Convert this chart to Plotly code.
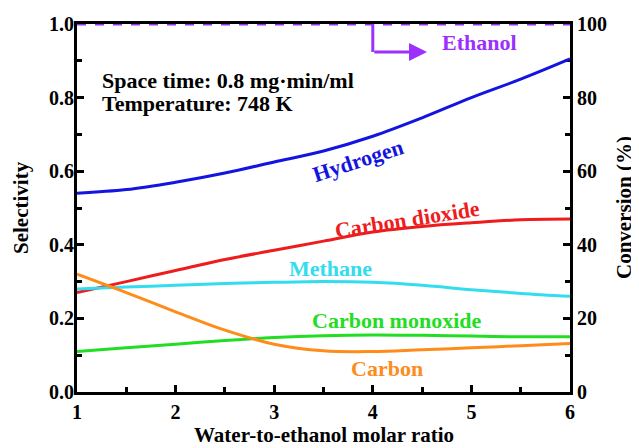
import plotly.graph_objects as go

ratio = [1, 1.5, 2, 2.5, 3, 3.5, 4, 4.5, 5, 5.5, 6]
hydrogen = [0.54, 0.55, 0.57, 0.595, 0.625, 0.655, 0.695, 0.745, 0.80, 0.85, 0.905]
carbon_dioxide = [0.27, 0.30, 0.33, 0.36, 0.385, 0.41, 0.435, 0.45, 0.46, 0.468, 0.47]
methane = [0.28, 0.285, 0.29, 0.295, 0.298, 0.30, 0.298, 0.29, 0.278, 0.268, 0.26]
carbon_monoxide = [0.11, 0.12, 0.13, 0.14, 0.148, 0.153, 0.155, 0.154, 0.152, 0.15, 0.15]
carbon = [0.32, 0.27, 0.218, 0.168, 0.13, 0.112, 0.11, 0.115, 0.12, 0.126, 0.132]
ethanol_conv = [100, 100, 100, 100, 100, 100, 100, 100, 100, 100, 100]

FONT = "'Liberation Serif', 'Times New Roman', serif"
C_H2 = "#1414e0"
C_CO2 = "#ee1c1c"
C_CH4 = "#33dcef"
C_CO = "#22dd22"
C_C = "#ff8c1a"
C_ETOH = "#9b30ff"

# page (screen) pixel geometry of the plot area
PX0, PX1, PY0, PY1 = 77, 570, 24, 392
OFF = 8  # page body margin

def px2paper(px, py):
    return (px - PX0) / (PX1 - PX0), (PY1 - py) / (PY1 - PY0)

fig = go.Figure()
for name, ys, col in [("Hydrogen", hydrogen, C_H2), ("Carbon dioxide", carbon_dioxide, C_CO2),
                      ("Methane", methane, C_CH4), ("Carbon monoxide", carbon_monoxide, C_CO),
                      ("Carbon", carbon, C_C)]:
    fig.add_trace(go.Scatter(x=ratio, y=ys, mode="lines", name=name,
                             line=dict(color=col, width=3, shape="spline")))
fig.add_trace(go.Scatter(x=ratio, y=ethanol_conv, mode="lines", name="Ethanol", yaxis="y2",
                         cliponaxis=False,
                         line=dict(color=C_ETOH, width=3, dash="dash")))

tickfont = dict(family=FONT, size=20, color="black")
axis_common = dict(showline=True, linecolor="black", linewidth=3, ticks="inside",
                   tickwidth=3, ticklen=7, tickcolor="black", showgrid=False, zeroline=False,
                   tickfont=tickfont, layer="below traces", automargin=False)

fig.update_layout(
    width=639, height=448,
    margin=dict(l=PX0 - OFF, r=639 - PX1 + OFF, t=PY0 - OFF, b=448 - PY1 + OFF, autoexpand=False),
    paper_bgcolor="white", plot_bgcolor="white",
    showlegend=False,
    font=dict(family=FONT, size=20, color="black"),
    xaxis=dict(range=[1, 6], dtick=1, mirror=True,
               minor=dict(dtick=0.5, ticks="inside", ticklen=5, tickwidth=3, tickcolor="black"),
               tickprefix="<b>", ticksuffix="</b>", **axis_common),
    yaxis=dict(range=[0, 1], dtick=0.2, tickformat=".1f", ticklabelstandoff=-4,
               minor=dict(dtick=0.1, ticks="inside", ticklen=5, tickwidth=3, tickcolor="black"),
               tickprefix="<b>", ticksuffix="</b>", **axis_common),
    yaxis2=dict(range=[0, 100], dtick=20, overlaying="y", side="right",
                minor=dict(dtick=10, ticks="inside", ticklen=5, tickwidth=3, tickcolor="black"),
                tickprefix="<b>", ticksuffix="</b>", **axis_common),
)

# Axis titles (placed as paper annotations)
for txt, px, py, ang in [("Water-to-ethanol molar ratio", 324, 435, 0),
                         ("Selectivity", 21, 208, -90),
                         ("Conversion (%)", 624, 208, -90)]:
    xp, yp = px2paper(px, py)
    fig.add_annotation(x=xp, y=yp, xref="paper", yref="paper",
                       text=f"<b>{txt}</b>", showarrow=False, textangle=ang,
                       xanchor="center", yanchor="middle", font=dict(family=FONT, size=21))

# Arrow pointing to right axis
fig.add_shape(type="line", x0=4.0, x1=4.0, y0=1.0, y1=0.924, xref="x", yref="y",
              line=dict(color=C_ETOH, width=3))
fig.add_annotation(x=4.55, y=0.924, ax=4.0, ay=0.924, xref="x", yref="y", axref="x", ayref="y",
                   text="", showarrow=True, arrowhead=2, arrowsize=1.2, arrowwidth=3, arrowcolor=C_ETOH)

labels = [
    ("Ethanol", 479, 42, 0, C_ETOH),
    ("Hydrogen", 358, 160, -18, C_H2),
    ("Carbon dioxide", 407, 219, -9, C_CO2),
    ("Methane", 330, 268, 0, C_CH4),
    ("Carbon monoxide", 397, 320, 0, C_CO),
    ("Carbon", 387, 368, 0, C_C),
]
for txt, px, py, ang, col in labels:
    xp, yp = px2paper(px, py)
    fig.add_annotation(x=xp, y=yp, xref="paper", yref="paper",
                       xanchor="center", yanchor="middle",
                       text=f"<b>{txt}</b>", showarrow=False, textangle=ang,
                       font=dict(family=FONT, size=22, color=col))

for txt, py in [("Space time: 0.8 mg·min/ml", 80), ("Temperature: 748 K", 104)]:
    xp, yp = px2paper(100, py)
    fig.add_annotation(x=xp, y=yp, xref="paper", yref="paper", xanchor="left", yanchor="middle",
                       text=f"<b>{txt}</b>", showarrow=False,
                       font=dict(family=FONT, size=22, color="black"))

fig.write_html("out.html")
